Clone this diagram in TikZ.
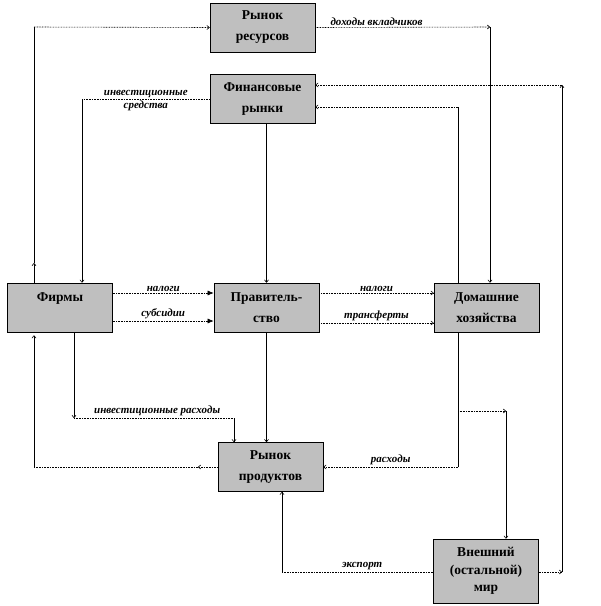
\documentclass[tikz,border=0pt]{standalone}
\usepackage{fontspec}
\setmainfont{Liberation Serif}
\usetikzlibrary{arrows.meta, positioning}

\begin{document}
\begin{tikzpicture}[
    x=1pt, y=-1pt,
    sector/.style={draw, fill=gray!50, line width=0.7pt, minimum width=105pt, minimum height=49pt, inner sep=0pt, align=center, font=\bfseries\fontsize{13.5}{21}\selectfont},
    flowlabel/.style={font=\bfseries\itshape\fontsize{11}{12}\selectfont, inner sep=1.5pt},
    vline/.style={line width=0.6pt},
    hline/.style={line width=0.6pt, dash pattern=on 0.8pt off 0.8pt},
    tip/.style={-{To[length=3pt, width=4.5pt]}},
    bigtip/.style={-{Latex[length=6pt, width=5pt]}}
]
\useasboundingbox (0,0) rectangle (601,606);

% Sectors
\node[sector] (rr) at (262.5,27.5) {Рынок\\ресурсов};
\node[sector] (fm) at (262.5,99) {Финансовые\\рынки};
\node[sector] (firms) at (60,307.5) {Фирмы\\\mbox{}};
\node[sector] (gov) at (266.5,307.5) {Правитель-\\ство};
\node[sector] (hh) at (486.5,307.5) {Домашние\\хозяйства};
\node[sector] (rp) at (270.5,467) {Рынок\\продуктов};
\node[sector, minimum height=64pt, font=\bfseries\fontsize{13.5}{17.5}\selectfont] (world) at (486,571) {Внешний\\(остальной)\\мир};

% Corners
\coordinate (f-mid) at (34,263);
\coordinate (f-rr) at (34,27);
\coordinate (rr-hh) at (490,27);
\coordinate (fm-f) at (82,99);
\coordinate (hh-fm) at (458,107);
\coordinate (hh-rp) at (458,467);
\coordinate (hh-br) at (458,411);
\coordinate (br-w) at (506,411);
\coordinate (f-inv) at (74,418);
\coordinate (inv-rp) at (234,418);
\coordinate (rp-arr) at (198,467);
\coordinate (rp-f) at (34,467);
\coordinate (w-rp) at (282,572);
\coordinate (w-dn) at (562,572);
\coordinate (w-up) at (562,85);

% Firms -> resource market -> households
\draw[vline, tip] (f-mid |- firms.north) -- (f-mid);
\draw[vline] (f-mid) -- (f-rr);
\draw[hline, tip] (f-rr) -- (rr.west);
\draw[hline, tip] (rr.east) -- node[flowlabel, above, pos=0.35] {доходы вкладчиков} (rr-hh);
\draw[vline, tip] (rr-hh) -- (rr-hh |- hh.north);

% Financial markets
\draw[hline] (fm.west) -- node[flowlabel, above] {инвестиционные} node[flowlabel, below] {средства} (fm-f);
\draw[vline, tip] (fm-f) -- (fm-f |- firms.north);
\draw[vline, tip] (fm.south -| gov.north) -- (gov.north);

% Firms <-> government <-> households
\draw[hline, bigtip] ([yshift=14.5pt]firms.east) -- node[flowlabel, above] {налоги} ([yshift=14.5pt]gov.west);
\draw[hline, bigtip] ([yshift=-13.5pt]firms.east) -- node[flowlabel, above] {субсидии} ([yshift=-13.5pt]gov.west);
\draw[hline, tip] ([yshift=14.5pt]gov.east) -- node[flowlabel, above] {налоги} ([yshift=14.5pt]hh.west);
\draw[hline, tip] ([yshift=-15.5pt]gov.east) -- node[flowlabel, above] {трансферты} ([yshift=-15.5pt]hh.west);

% Households -> financial markets, product market, world
\draw[vline] (hh-fm |- hh.north) -- (hh-fm);
\draw[hline, tip] (hh-fm) -- (hh-fm -| fm.east);
\draw[vline] (hh-rp |- hh.south) -- (hh-rp);
\draw[hline, tip] (hh-rp) -- node[flowlabel, above] {расходы} (hh-rp -| rp.east);
\draw[hline, tip] (hh-br) -- (br-w);
\draw[vline, tip] (br-w) -- (br-w |- world.north);

% Investment and government spending
\draw[vline, tip] (f-inv |- firms.south) -- (f-inv);
\draw[hline] (f-inv) -- node[flowlabel, above, pos=0.52] {инвестиционные расходы} (inv-rp);
\draw[vline, tip] (inv-rp) -- (inv-rp |- rp.north);
\draw[vline, tip] (gov.south) -- (gov.south |- rp.north);

% Product market -> firms
\draw[hline, tip] (rp.west) -- (rp-arr);
\draw[hline] (rp-arr) -- (rp-f);
\draw[vline, tip] (rp-f) -- ([yshift=-3pt]rp-f |- firms.south);

% World
\draw[hline] (world.west |- w-rp) -- node[flowlabel, above, pos=0.47] {экспорт} (w-rp);
\draw[vline, tip] (w-rp) -- (w-rp |- rp.south);
\draw[hline, tip] (world.east |- w-dn) -- (w-dn);
\draw[vline, tip] (w-dn) -- (w-up);
\draw[hline, tip] (w-up) -- (w-up -| fm.east);

\end{tikzpicture}
\end{document}
